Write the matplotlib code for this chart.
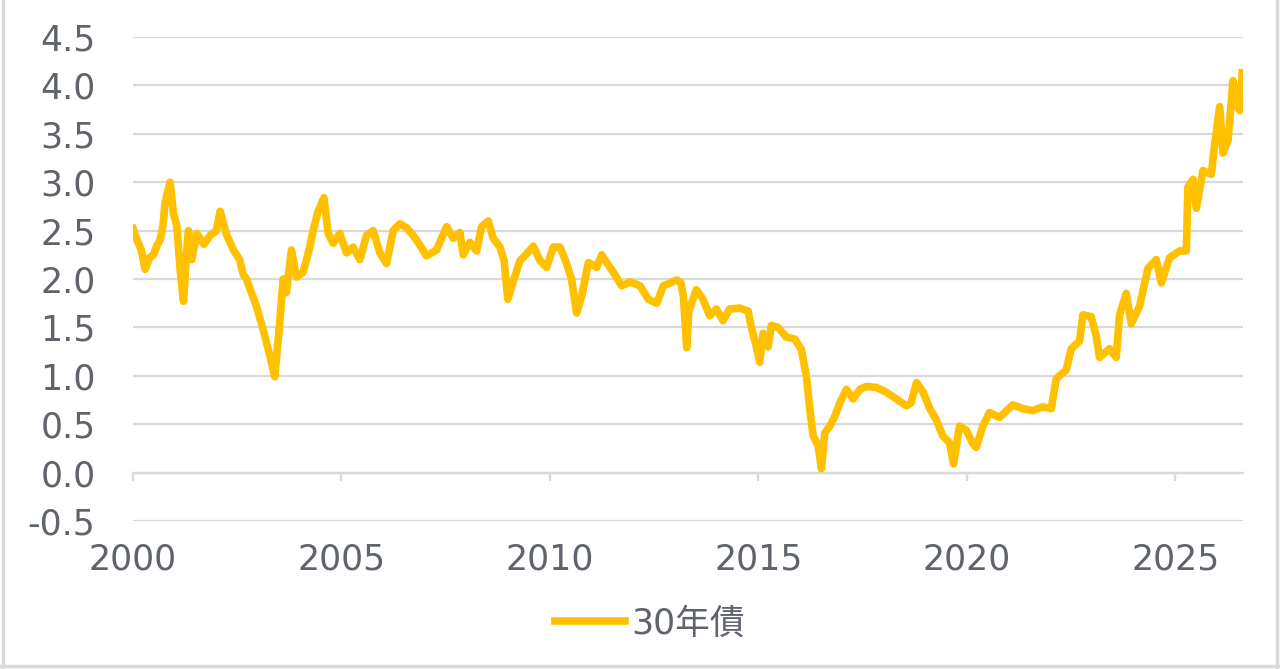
import numpy as np
from matplotlib import pyplot as plt
from matplotlib.lines import Line2D

# decimal year, 30年債 yield (%)
years = [
	2000.00, 2000.10, 2000.20, 2000.29, 2000.40, 2000.49, 2000.58, 2000.65, 2000.72, 2000.77,
	2000.89, 2000.97, 2001.05, 2001.13, 2001.21, 2001.29, 2001.33, 2001.41, 2001.53, 2001.70,
	2001.85, 2002.00, 2002.09, 2002.25, 2002.41, 2002.56, 2002.64, 2002.72, 2002.84, 2002.96,
	2003.12, 2003.28, 2003.40, 2003.48, 2003.52, 2003.60, 2003.68, 2003.80, 2003.92, 2004.08,
	2004.24, 2004.32, 2004.44, 2004.58, 2004.68, 2004.80, 2004.96, 2005.12, 2005.28, 2005.44,
	2005.60, 2005.76, 2005.92, 2006.08, 2006.24, 2006.40, 2006.56, 2006.72, 2006.88, 2007.04,
	2007.28, 2007.52, 2007.68, 2007.84, 2007.92, 2008.08, 2008.24, 2008.36, 2008.52, 2008.64,
	2008.80, 2008.90, 2008.99, 2009.11, 2009.28, 2009.44, 2009.60, 2009.76, 2009.92, 2010.08,
	2010.24, 2010.40, 2010.52, 2010.64, 2010.76, 2010.92, 2011.12, 2011.24, 2011.36, 2011.52,
	2011.72, 2011.92, 2012.16, 2012.36, 2012.56, 2012.72, 2013.04, 2013.14, 2013.20, 2013.28,
	2013.33, 2013.51, 2013.67, 2013.83, 2013.99, 2014.15, 2014.31, 2014.55, 2014.75, 2014.83,
	2014.95, 2015.03, 2015.11, 2015.23, 2015.31, 2015.47, 2015.67, 2015.87, 2016.03, 2016.15,
	2016.23, 2016.31, 2016.43, 2016.51, 2016.59, 2016.71, 2016.83, 2016.95, 2017.11, 2017.27,
	2017.43, 2017.59, 2017.83, 2018.07, 2018.31, 2018.55, 2018.66, 2018.79, 2018.95, 2019.11,
	2019.26, 2019.42, 2019.58, 2019.68, 2019.82, 2019.98, 2020.14, 2020.22, 2020.38, 2020.54,
	2020.78, 2021.10, 2021.34, 2021.58, 2021.82, 2022.02, 2022.14, 2022.38, 2022.50, 2022.70,
	2022.78, 2022.98, 2023.10, 2023.18, 2023.42, 2023.58, 2023.66, 2023.82, 2023.94, 2024.14,
	2024.34, 2024.54, 2024.66, 2024.86, 2025.10, 2025.26, 2025.30, 2025.42, 2025.50, 2025.66,
	2025.86, 2025.94, 2026.06, 2026.14, 2026.26, 2026.38, 2026.45, 2026.54, 2026.60,
]
yields = [
	2.52, 2.40, 2.30, 2.10, 2.22, 2.25, 2.35, 2.40, 2.55, 2.79,
	3.00, 2.68, 2.55, 2.10, 1.77, 2.30, 2.50, 2.20, 2.47, 2.36,
	2.45, 2.50, 2.70, 2.45, 2.30, 2.20, 2.05, 2.00, 1.86, 1.72,
	1.48, 1.21, 0.99, 1.36, 1.55, 2.00, 1.86, 2.30, 2.02, 2.07,
	2.33, 2.50, 2.70, 2.84, 2.47, 2.37, 2.47, 2.27, 2.33, 2.20,
	2.45, 2.50, 2.27, 2.16, 2.50, 2.57, 2.53, 2.45, 2.35, 2.24,
	2.30, 2.54, 2.42, 2.48, 2.25, 2.38, 2.29, 2.54, 2.60, 2.42,
	2.33, 2.19, 1.79, 1.96, 2.19, 2.26, 2.34, 2.19, 2.12, 2.33,
	2.33, 2.16, 1.99, 1.65, 1.82, 2.17, 2.12, 2.25, 2.17, 2.07,
	1.93, 1.97, 1.93, 1.79, 1.75, 1.93, 1.99, 1.96, 1.82, 1.29,
	1.67, 1.89, 1.79, 1.62, 1.69, 1.57, 1.69, 1.70, 1.67, 1.50,
	1.30, 1.14, 1.44, 1.30, 1.52, 1.50, 1.40, 1.38, 1.27, 0.99,
	0.66, 0.38, 0.28, 0.04, 0.41, 0.48, 0.58, 0.72, 0.86, 0.76,
	0.86, 0.89, 0.88, 0.83, 0.76, 0.69, 0.72, 0.93, 0.83, 0.66,
	0.55, 0.38, 0.31, 0.09, 0.48, 0.44, 0.30, 0.26, 0.48, 0.62,
	0.57, 0.70, 0.66, 0.64, 0.68, 0.66, 0.97, 1.06, 1.28, 1.36,
	1.63, 1.61, 1.41, 1.19, 1.28, 1.19, 1.63, 1.85, 1.54, 1.72,
	2.11, 2.20, 1.96, 2.22, 2.29, 2.29, 2.95, 3.03, 2.73, 3.12,
	3.08, 3.39, 3.78, 3.30, 3.43, 4.05, 3.83, 3.74, 4.13,
]
series_name = '30年債'
x_ticks     = [2000, 2005, 2010, 2015, 2020, 2025]
y_ticks     = [-0.5, 0.0, 0.5, 1.0, 1.5, 2.0, 2.5, 3.0, 3.5, 4.0, 4.5]

LINE = '#FFC000'
TEXT = '#5f636b'
GRID = '#d9d9d9'
FS   = 25

plt.rcParams['font.family'] = ['DejaVu Sans', 'Noto Sans CJK JP']

fig = plt.figure(figsize=(12.8, 6.69), dpi=100)
ax  = fig.add_axes([0.1039, 0.2212, 0.8672, 0.7235])

ax.plot(years, yields, color=LINE, linewidth=5.5, solid_joinstyle='round', label=series_name, zorder=3)

ax.set_xlim(2000, 2026.62)
ax.set_ylim(-0.5, 4.5)
ax.set_xticks(x_ticks)
ax.set_yticks(y_ticks)
ax.set_yticklabels(['%.1f' % v for v in y_ticks])

ax.grid(axis='y', color=GRID, linewidth=1.6, zorder=0)
ax.grid(axis='x', visible=False)

for side in ('left', 'right', 'top'):
	ax.spines[side].set_visible(False)
ax.spines['bottom'].set_position(('data', 0))
ax.spines['bottom'].set_color(GRID)
ax.spines['bottom'].set_linewidth(1.6)

ax.tick_params(axis='y', length=0, pad=27, labelsize=FS, labelcolor=TEXT)
ax.tick_params(axis='x', length=6, width=1.6, color=GRID, direction='out', pad=44, labelsize=FS, labelcolor=TEXT)

fig.legend(loc='center', bbox_to_anchor=(0.508, 0.068), frameon=False, fontsize=FS,
           handlelength=2.0, handletextpad=0.2, labelcolor=TEXT)

# light frame around the image
for xs, ys in (([0.002, 0.002], [0, 1]), ([0.998, 0.998], [0, 1]), ([0, 1], [0.004, 0.004])):
	fig.add_artist(Line2D(xs, ys, transform=fig.transFigure, color=GRID, linewidth=2.5))

fig.savefig('out.png', dpi=100, facecolor='white')
